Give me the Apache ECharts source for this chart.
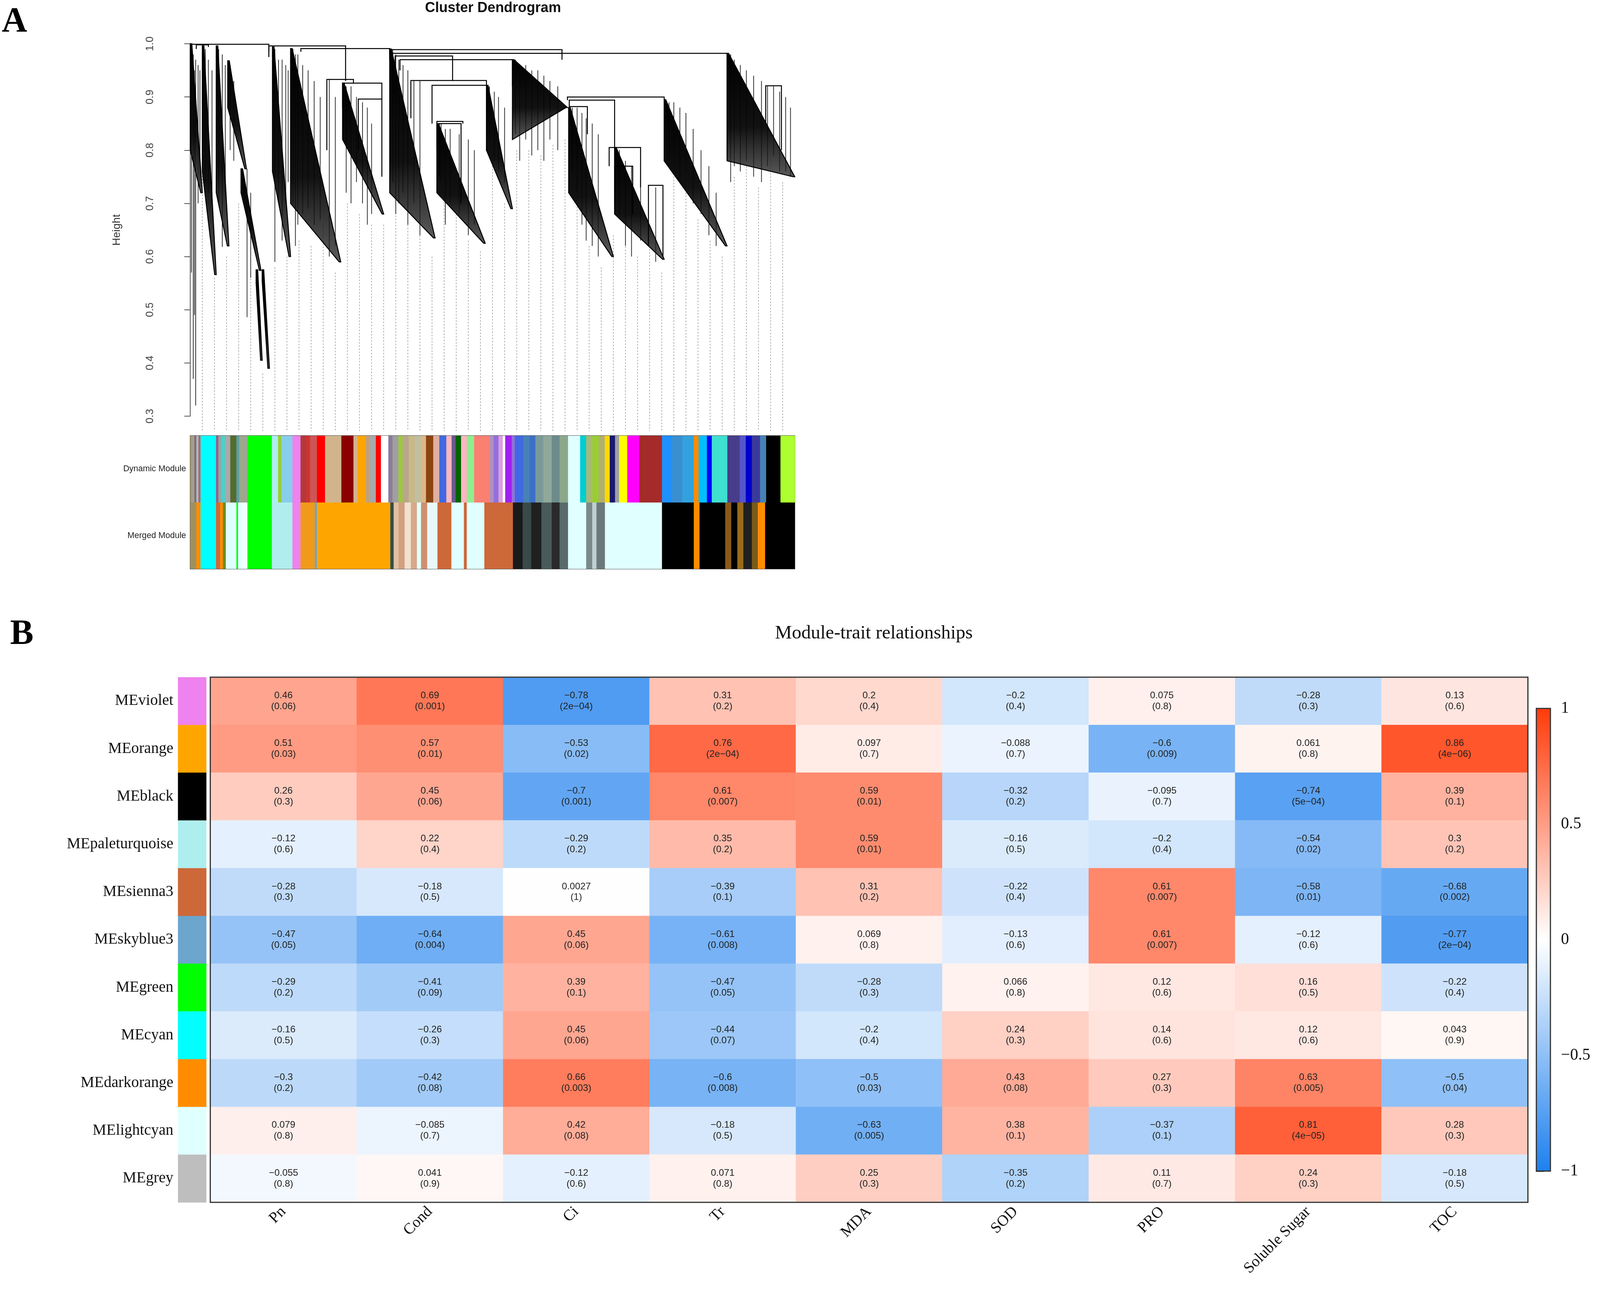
<!DOCTYPE html>
<html>
<head>
<meta charset="utf-8">
<script src="https://cdn.jsdelivr.net/npm/echarts@6/dist/echarts.min.js"></script>
<style>
html, body { margin: 0; padding: 0; background: #fff; overflow: hidden; }
#chart { width: 100vw; height: 100vh; }
</style>
</head>
<body>
<div id="chart"></div>
<script>
// ---- panel B data: module-trait correlations ----
var traits = ['Pn', 'Cond', 'Ci', 'Tr', 'MDA', 'SOD', 'PRO', 'Soluble Sugar', 'TOC'];
var modules = ['MEviolet', 'MEorange', 'MEblack', 'MEpaleturquoise', 'MEsienna3', 'MEskyblue3',
    'MEgreen', 'MEcyan', 'MEdarkorange', 'MElightcyan', 'MEgrey'];
var moduleColors = ['#EE82EE', '#FFA500', '#000000', '#AFEEEE', '#CD6839', '#6CA6CD',
    '#00FF00', '#00FFFF', '#FF8C00', '#E0FFFF', '#BEBEBE'];
var corrValues = [
    [0.46, 0.69, -0.78, 0.31, 0.2, -0.2, 0.075, -0.28, 0.13],
    [0.51, 0.57, -0.53, 0.76, 0.097, -0.088, -0.6, 0.061, 0.86],
    [0.26, 0.45, -0.7, 0.61, 0.59, -0.32, -0.095, -0.74, 0.39],
    [-0.12, 0.22, -0.29, 0.35, 0.59, -0.16, -0.2, -0.54, 0.3],
    [-0.28, -0.18, 0.0027, -0.39, 0.31, -0.22, 0.61, -0.58, -0.68],
    [-0.47, -0.64, 0.45, -0.61, 0.069, -0.13, 0.61, -0.12, -0.77],
    [-0.29, -0.41, 0.39, -0.47, -0.28, 0.066, 0.12, 0.16, -0.22],
    [-0.16, -0.26, 0.45, -0.44, -0.2, 0.24, 0.14, 0.12, 0.043],
    [-0.3, -0.42, 0.66, -0.6, -0.5, 0.43, 0.27, 0.63, -0.5],
    [0.079, -0.085, 0.42, -0.18, -0.63, 0.38, -0.37, 0.81, 0.28],
    [-0.055, 0.041, -0.12, 0.071, 0.25, -0.35, 0.11, 0.24, -0.18]
];
var pValues = [
    ['0.06', '0.001', '2e-04', '0.2', '0.4', '0.4', '0.8', '0.3', '0.6'],
    ['0.03', '0.01', '0.02', '2e-04', '0.7', '0.7', '0.009', '0.8', '4e-06'],
    ['0.3', '0.06', '0.001', '0.007', '0.01', '0.2', '0.7', '5e-04', '0.1'],
    ['0.6', '0.4', '0.2', '0.2', '0.01', '0.5', '0.4', '0.02', '0.2'],
    ['0.3', '0.5', '1', '0.1', '0.2', '0.4', '0.007', '0.01', '0.002'],
    ['0.05', '0.004', '0.06', '0.008', '0.8', '0.6', '0.007', '0.6', '2e-04'],
    ['0.2', '0.09', '0.1', '0.05', '0.3', '0.8', '0.6', '0.5', '0.4'],
    ['0.5', '0.3', '0.06', '0.07', '0.4', '0.3', '0.6', '0.6', '0.9'],
    ['0.2', '0.08', '0.003', '0.008', '0.03', '0.08', '0.3', '0.005', '0.04'],
    ['0.8', '0.7', '0.08', '0.5', '0.005', '0.1', '0.1', '4e-05', '0.3'],
    ['0.8', '0.9', '0.6', '0.8', '0.3', '0.2', '0.7', '0.3', '0.5']
];
var scaleColors = ['#1E80EE', '#FFFFFF', '#FF3A0A'];

// ---- panel A data: dendrogram (leaf position 0-1000, height) ----
// fans: [xStart, xEnd, topHeight, tipHeight, leftHeight]
var dendroFans = [
    [0, 20, 1.0, 0.72, 0.80],
    [20, 43, 0.996, 0.566, 0.76],
    [43, 64, 0.996, 0.62, 0.72],
    [62, 93, 0.968, 0.765, 0.88],
    [84, 117, 0.765, 0.574, 0.72],
    [109, 119, 0.575, 0.405, 0.55],
    [119, 131, 0.575, 0.39, 0.555],
    [136, 166, 0.994, 0.60, 0.76],
    [166, 249, 0.991, 0.59, 0.70],
    [252, 320, 0.926, 0.68, 0.82],
    [330, 405, 0.99, 0.635, 0.72],
    [408, 488, 0.85, 0.625, 0.72],
    [490, 533, 0.922, 0.69, 0.80],
    [533, 624, 0.97, 0.88, 0.82],
    [626, 700, 0.88, 0.60, 0.72],
    [702, 784, 0.805, 0.595, 0.68],
    [784, 888, 0.895, 0.62, 0.78],
    [888, 1000, 0.982, 0.75, 0.78]
];
// merges: [xLeft, xRight, height, leftChildHeight, rightChildHeight]
var dendroLinks = [
    [2, 130, 0.999, 0.99, 0.975],
    [10, 30, 0.998, 0.99, 0.994],
    [130, 257, 0.996, 0.985, 0.93],
    [183, 330, 0.991, 0.985, 0.982],
    [330, 615, 0.989, 0.98, 0.97],
    [330, 888, 0.982, 0.97, 0.975],
    [339, 434, 0.977, 0.96, 0.93],
    [347, 533, 0.970, 0.95, 0.92],
    [226, 270, 0.933, 0.80, 0.926],
    [252, 317, 0.926, 0.88, 0.896],
    [278, 317, 0.896, 0.80, 0.75],
    [365, 490, 0.931, 0.86, 0.922],
    [400, 490, 0.922, 0.85, 0.90],
    [624, 784, 0.90, 0.894, 0.895],
    [627, 702, 0.894, 0.882, 0.805],
    [408, 451, 0.854, 0.80, 0.85],
    [412, 448, 0.85, 0.75, 0.70],
    [693, 745, 0.805, 0.77, 0.73],
    [702, 732, 0.77, 0.70, 0.68],
    [758, 782, 0.734, 0.62, 0.60],
    [952, 978, 0.921, 0.85, 0.80],
    [627, 657, 0.882, 0.84, 0.83]
];
// single hanging branches: [x, topHeight, bottomHeight]
var dendroHangs = [
    [2, 0.99, 0.57], [5, 0.98, 0.37], [9, 0.97, 0.32], [7, 0.95, 0.49], [13, 0.96, 0.70], [16, 0.95, 0.73],
    [25, 0.99, 0.74], [30, 0.97, 0.72], [36, 0.95, 0.70],
    [47, 0.99, 0.70], [53, 0.98, 0.618], [58, 0.96, 0.72],
    [66, 0.96, 0.80], [72, 0.93, 0.78], [94, 0.765, 0.486], [100, 0.72, 0.56],
    [140, 0.99, 0.59], [146, 0.97, 0.70], [152, 0.97, 0.63], [158, 0.96, 0.70], [162, 0.95, 0.74],
    [170, 0.99, 0.70], [174, 0.98, 0.62], [178, 0.98, 0.66], [186, 0.96, 0.68], [195, 0.95, 0.69],
    [205, 0.93, 0.66], [215, 0.90, 0.67], [230, 0.933, 0.60], [240, 0.90, 0.62],
    [258, 0.92, 0.72], [266, 0.92, 0.70], [275, 0.90, 0.74], [285, 0.89, 0.70], [293, 0.88, 0.66], [300, 0.85, 0.68],
    [335, 0.99, 0.74], [340, 0.98, 0.68], [345, 0.97, 0.70], [352, 0.96, 0.72], [360, 0.95, 0.66], [370, 0.93, 0.70], [380, 0.93, 0.64],
    [415, 0.85, 0.74], [422, 0.84, 0.66], [430, 0.84, 0.70], [445, 0.83, 0.68], [460, 0.82, 0.64], [470, 0.80, 0.66],
    [495, 0.92, 0.82], [503, 0.91, 0.78], [510, 0.90, 0.76], [520, 0.88, 0.74],
    [538, 0.97, 0.83], [545, 0.96, 0.78], [555, 0.96, 0.82], [565, 0.95, 0.79], [575, 0.95, 0.80],
    [585, 0.94, 0.78], [595, 0.93, 0.82], [608, 0.92, 0.80],
    [632, 0.88, 0.76], [640, 0.88, 0.72], [648, 0.87, 0.66], [655, 0.86, 0.63], [665, 0.85, 0.62], [675, 0.83, 0.60],
    [710, 0.80, 0.68], [720, 0.78, 0.62], [730, 0.77, 0.60], [745, 0.76, 0.63], [770, 0.73, 0.59],
    [792, 0.89, 0.78], [800, 0.89, 0.80], [810, 0.88, 0.74], [820, 0.87, 0.76], [832, 0.84, 0.70],
    [845, 0.80, 0.68], [858, 0.77, 0.64], [870, 0.72, 0.62],
    [894, 0.98, 0.74], [900, 0.97, 0.77], [910, 0.96, 0.76], [920, 0.95, 0.78], [932, 0.94, 0.75],
    [945, 0.93, 0.74], [955, 0.92, 0.77], [965, 0.92, 0.79], [975, 0.91, 0.76], [985, 0.90, 0.76], [993, 0.88, 0.75]
];
// dotted guide lines: [x, startHeight]
var dendroGuides = [
    [20, 0.84], [40, 0.56], [60, 0.60], [80, 0.70], [100, 0.57], [120, 0.38], [140, 0.58], [160, 0.60],
    [180, 0.63], [200, 0.62], [220, 0.66], [240, 0.57], [260, 0.70], [280, 0.68], [300, 0.66], [320, 0.66],
    [340, 0.73], [360, 0.66], [380, 0.64], [400, 0.60], [420, 0.72], [440, 0.68], [460, 0.63], [480, 0.61],
    [500, 0.80], [520, 0.70], [540, 0.80], [560, 0.80], [580, 0.79], [600, 0.81], [620, 0.82], [640, 0.70],
    [660, 0.62], [680, 0.58], [700, 0.64], [720, 0.66], [740, 0.60], [760, 0.62], [780, 0.57], [800, 0.78],
    [820, 0.75], [840, 0.67], [860, 0.63], [880, 0.60], [900, 0.75], [920, 0.77], [940, 0.73], [960, 0.78],
    [980, 0.74]
];
// module colour bars: [xStart, xEnd, colour]
var dynamicSegments = [
    [0, 3.4, '#A89A6A'], [3.4, 6.8, '#A0A0A0'], [6.8, 10, '#8B6969'], [10, 13.5, '#9AC0CD'], [13.5, 17, '#CD5C5C'],
    [17, 42.6, '#00FFFF'], [42.6, 46.6, '#8B668B'], [46.6, 50.7, '#A0A0A0'], [50.7, 57.4, '#48D1CC'],
    [57.4, 66.2, '#A9A9A9'], [66.2, 76.4, '#556B2F'], [76.4, 81, '#5F9EA0'], [81, 94.6, '#9CA88C'],
    [94.6, 135, '#00FF00'], [135, 145.3, '#AFEEEE'], [145.3, 150.7, '#9ACD32'], [150.7, 169, '#87CEEB'],
    [169, 182.4, '#EE82EE'], [182.4, 191, '#B03A3A'], [191, 198, '#CD3333'], [198, 209.5, '#CD5555'],
    [209.5, 223, '#FF0000'], [223, 250, '#D2B48C'], [250, 270, '#8B0000'], [270, 277, '#D2B48C'],
    [277, 290.5, '#FFA500'], [290.5, 297, '#C0A080'], [297, 307, '#A9A9A9'], [307, 315.5, '#FF0000'],
    [315.5, 327.7, '#FFFFFF'], [327.7, 334.5, '#8B7D9B'], [334.5, 344.6, '#A0A0A0'], [344.6, 351, '#9ACD32'],
    [351, 361.5, '#B8A88A'], [361.5, 371.6, '#C8B88A'], [371.6, 381.8, '#C0C0A0'], [381.8, 390, '#DEB887'],
    [390, 402, '#8B4513'], [402, 412, '#E0B0A0'], [412, 423.6, '#4169E1'], [423.6, 432.4, '#FFB6C1'],
    [432.4, 439, '#6A5A8A'], [439, 448, '#006400'], [448, 457.4, '#FFB6C1'], [457.4, 469.6, '#90EE90'],
    [469.6, 495.3, '#FA8072'], [495.3, 502, '#B090C0'], [502, 510, '#9370DB'], [510, 517, '#DDA0DD'],
    [517, 521, '#FFFFFF'], [521, 531.8, '#A020F0'], [531.8, 537, '#9370DB'], [537, 551, '#4169E1'],
    [551, 561, '#4682B4'], [561, 571, '#3C70C8'], [571, 584, '#7A9A9A'], [584, 598, '#8FA89A'],
    [598, 611, '#6E8B8B'], [611, 625, '#8CA88C'], [625, 645, '#E0FFFF'], [645, 655, '#00CED1'],
    [655, 665, '#A8B878'], [665, 675.7, '#9ACD32'], [675.7, 685.8, '#B0B070'], [685.8, 694, '#FFD700'],
    [694, 702.7, '#191970'], [702.7, 709.5, '#A0A0A0'], [709.5, 723, '#FFFF00'], [723, 743, '#FF00FF'],
    [743, 780.4, '#A52A2A'], [780.4, 797, '#1E90FF'], [797, 814, '#3A8FD0'], [814, 833, '#33A1DE'],
    [833, 841, '#FF8C00'], [841, 854.7, '#00BFFF'], [854.7, 862.8, '#0000FF'], [862.8, 888.5, '#40E0D0'],
    [888.5, 909, '#483D8B'], [909, 919, '#5555CC'], [919, 929, '#0000CD'], [929, 942.6, '#3A3A9A'],
    [942.6, 952.7, '#4682B4'], [952.7, 976.4, '#000000'], [976.4, 1000, '#ADFF2F']
];
var mergedSegments = [
    [0, 10, '#A09060'], [10, 17, '#FF8C00'], [17, 42.6, '#00FFFF'], [42.6, 49.3, '#CD6839'],
    [49.3, 54, '#FF8C00'], [54, 58.8, '#6B8E23'], [58.8, 76.4, '#E0FFFF'], [76.4, 79, '#00FF00'],
    [79, 84.5, '#E0FFFF'], [84.5, 94.6, '#F0FFFF'], [94.6, 135, '#00FF00'], [135, 169, '#AFEEEE'],
    [169, 182.4, '#EE82EE'], [182.4, 206, '#F09A1A'], [206, 209.5, '#6CA6CD'], [209.5, 331, '#FFA500'],
    [331, 336.5, '#2F4F4F'], [336.5, 344.6, '#E0C0A0'], [344.6, 354.7, '#D2A080'], [354.7, 365, '#F0E0D0'],
    [365, 375, '#D8A888'], [375, 381.8, '#E0FFFF'], [381.8, 392, '#D09070'], [392, 409, '#E8F8F8'],
    [409, 432, '#CD6839'], [432, 452.7, '#E0FFFF'], [452.7, 457.4, '#CD6839'], [457.4, 486.5, '#E0FFFF'],
    [486.5, 533.8, '#CD6839'], [533.8, 550, '#1A1A1A'], [550, 564, '#3A4A4A'], [564, 581, '#202020'],
    [581, 598, '#4A5A5A'], [598, 611, '#2A2A2A'], [611, 625, '#5A6A6A'], [625, 655, '#E0FFFF'],
    [655, 665, '#7A8A8A'], [665, 672, '#C0D0D0'], [672, 686, '#6A7A7A'], [686, 780.4, '#E0FFFF'],
    [780.4, 833, '#000000'], [833, 842.5, '#FF8C00'], [842.5, 885, '#000000'], [885, 895, '#8B5A1A'],
    [895, 905, '#000000'], [905, 915, '#9A6A1A'], [915, 929, '#202020'], [929, 939, '#7A5A1A'],
    [939, 951, '#FF8C00'], [951, 1000, '#000000']
];

function fmt(v) {
    return String(v).replace('-', '\u2212');
}

var heatData = [];
modules.forEach(function (m, r) {
    traits.forEach(function (t, c) {
        heatData.push([c, r, corrValues[r][c], pValues[r][c]]);
    });
});

// layout is designed on a 4550 x 3309 page and scaled to the real viewport
var dom = document.getElementById('chart');
var kx = dom.clientWidth / 4550;
var ky = dom.clientHeight / 3309;
var kf = Math.min(kx, ky);
function X(v) { return v * kx; }
function Y(v) { return v * ky; }
function F(v) { return v * kf; }

var chart = echarts.init(dom, null, { renderer: 'canvas' });

function segmentRenderer(list) {
    return function (params, api) {
        var seg = list[params.dataIndex];
        var a = api.coord([seg[0], 0]);
        var b = api.coord([seg[1], 0]);
        var cs = params.coordSys;
        return {
            type: 'rect',
            shape: { x: a[0], y: cs.y, width: b[0] - a[0] + 0.6, height: cs.height },
            style: { fill: seg[2] }
        };
    };
}

var serif = 'Liberation Serif';
var sans = 'Liberation Sans';

var option = {
    backgroundColor: '#fff',
    animation: false,
    grid: [
        { left: X(541), top: Y(112), width: X(1719), height: Y(953) },            // 0 dendrogram
        { left: X(541), top: Y(1115), width: X(1719), height: Y(171), show: true, borderColor: '#555', borderWidth: 2 }, // 1 dynamic
        { left: X(541), top: Y(1286), width: X(1719), height: Y(170), show: true, borderColor: '#555', borderWidth: 2 }, // 2 merged
        { left: X(598), top: Y(1733), width: X(3747), height: Y(1344) },          // 3 heatmap
        { left: X(506), top: Y(1733), width: X(81), height: Y(1344) },            // 4 module colours
        { left: X(4369), top: Y(1813), width: X(40), height: Y(1184) }            // 5 colour scale
    ],
    xAxis: [
        { gridIndex: 0, type: 'value', min: 0, max: 1000, show: false },
        { gridIndex: 1, type: 'value', min: 0, max: 1000, show: false },
        { gridIndex: 2, type: 'value', min: 0, max: 1000, show: false },
        {
            gridIndex: 3, type: 'category', data: traits, position: 'bottom',
            axisLine: { show: false }, axisTick: { show: false }, splitLine: { show: false },
            axisLabel: { rotate: 45, margin: F(20), fontFamily: serif, fontSize: F(44), color: '#111' }
        },
        { gridIndex: 4, type: 'category', data: ['c'], show: false },
        { gridIndex: 5, type: 'value', min: 0, max: 1, show: false }
    ],
    yAxis: [
        {
            gridIndex: 0, type: 'value', min: 0.3, max: 1.0, interval: 0.1, offset: X(69),
            name: 'Height', nameLocation: 'middle', nameGap: X(124), nameRotate: 90,
            nameTextStyle: { fontFamily: sans, fontSize: F(31), color: '#333' },
            axisLine: { show: true, lineStyle: { color: '#555', width: 2 } },
            axisTick: { show: true, length: X(17), lineStyle: { color: '#555', width: 2 } },
            splitLine: { show: false },
            axisLabel: {
                rotate: 90, margin: X(30), fontFamily: sans, fontSize: F(30), color: '#444',
                formatter: function (v) { return v.toFixed(1); }
            }
        },
        {
            gridIndex: 1, type: 'category', data: ['Dynamic Module'],
            axisLine: { show: false }, axisTick: { show: false },
            axisLabel: { margin: X(12), fontFamily: sans, fontSize: F(24), color: '#222' }
        },
        {
            gridIndex: 2, type: 'category', data: ['Merged Module'],
            axisLine: { show: false }, axisTick: { show: false },
            axisLabel: { margin: X(12), fontFamily: sans, fontSize: F(24), color: '#222' }
        },
        { gridIndex: 3, type: 'category', data: modules, inverse: true, show: false },
        {
            gridIndex: 4, type: 'category', data: modules, inverse: true,
            axisLine: { show: false }, axisTick: { show: false },
            axisLabel: { margin: X(13), fontFamily: serif, fontSize: F(44), color: '#111' }
        },
        {
            gridIndex: 5, type: 'value', min: -1, max: 1, interval: 0.5, position: 'right',
            axisLine: { show: true, lineStyle: { color: '#333', width: 3 } },
            axisTick: { show: true, length: X(22), lineStyle: { color: '#333', width: 3 } },
            splitLine: { show: false },
            axisLabel: { margin: X(30), fontFamily: serif, fontSize: F(46), color: '#111', formatter: function (v) { return fmt(v); } }
        }
    ],
    visualMap: {
        show: false, min: -1, max: 1, dimension: 2, seriesIndex: 7,
        inRange: { color: scaleColors }
    },
    graphic: [
        { type: 'text', x: X(41), y: Y(58), style: { text: 'A', font: 'bold ' + F(100) + 'px "Liberation Serif"', fill: '#000', textAlign: 'center', textVerticalAlign: 'middle' } },
        { type: 'text', x: X(62), y: Y(1625), style: { text: 'B', font: 'bold ' + F(100) + 'px "Liberation Serif"', fill: '#000', textAlign: 'center', textVerticalAlign: 'middle' } },
        { type: 'text', x: X(1402), y: Y(21), style: { text: 'Cluster Dendrogram', font: 'bold ' + F(40) + 'px "Liberation Sans"', fill: '#111', textAlign: 'center', textVerticalAlign: 'middle' } },
        { type: 'text', x: X(2485), y: Y(1621), style: { text: 'Module-trait relationships', font: F(54) + 'px "Liberation Serif"', fill: '#111', textAlign: 'center', textVerticalAlign: 'middle' } },
        { type: 'rect', z: 100, shape: { x: X(598), y: Y(1733), width: X(3747), height: Y(1344) }, style: { fill: 'none', stroke: '#333', lineWidth: 3 } }
    ],
    series: [
        // 0 dotted guides
        {
            type: 'custom', xAxisIndex: 0, yAxisIndex: 0, clip: false, silent: true,
            data: dendroGuides,
            renderItem: function (params, api) {
                var a = api.coord([api.value(0), api.value(1)]);
                var b = api.coord([api.value(0), 0.272]);
                return { type: 'line', shape: { x1: a[0], y1: a[1], x2: b[0], y2: b[1] },
                    style: { stroke: '#9a9a9a', lineWidth: 1.6, lineDash: [4, 4] } };
            }
        },
        // 1 hanging branches
        {
            type: 'custom', xAxisIndex: 0, yAxisIndex: 0, clip: false, silent: true,
            data: dendroHangs,
            renderItem: function (params, api) {
                var a = api.coord([api.value(0), api.value(1)]);
                var b = api.coord([api.value(0), api.value(2)]);
                return { type: 'line', shape: { x1: a[0], y1: a[1], x2: b[0], y2: b[1] },
                    style: { stroke: '#333', lineWidth: 2 } };
            }
        },
        // 2 dense fans
        {
            type: 'custom', xAxisIndex: 0, yAxisIndex: 0, clip: false, silent: true,
            data: dendroFans,
            renderItem: function (params, api) {
                var p0 = api.coord([api.value(0), api.value(2)]);
                var p1 = api.coord([api.value(1), api.value(3)]);
                var p2 = api.coord([api.value(0), api.value(4)]);
                return { type: 'polygon', shape: { points: [p0, [p0[0] + 4, p0[1]], p1, [p1[0] - 4, p1[1]], p2] },
                    style: {
                        fill: new echarts.graphic.LinearGradient(0, 0, 0, 1, [
                            { offset: 0, color: 'rgba(0,0,0,1)' },
                            { offset: 0.6, color: 'rgba(5,5,5,0.95)' },
                            { offset: 1, color: 'rgba(35,35,35,0.75)' }
                        ]),
                        stroke: '#000', lineWidth: 2.5
                    } };
            }
        },
        // 3 merge links
        {
            type: 'custom', xAxisIndex: 0, yAxisIndex: 0, clip: false, silent: true,
            data: dendroLinks,
            renderItem: function (params, api) {
                var l0 = api.coord([api.value(0), api.value(3)]);
                var l1 = api.coord([api.value(0), api.value(2)]);
                var r1 = api.coord([api.value(1), api.value(2)]);
                var r0 = api.coord([api.value(1), api.value(4)]);
                return { type: 'polyline', shape: { points: [l0, l1, r1, r0] },
                    style: { fill: 'none', stroke: '#000', lineWidth: 2.5 } };
            }
        },
        // 4 dynamic module colours
        {
            type: 'custom', xAxisIndex: 1, yAxisIndex: 1, silent: true,
            data: dynamicSegments.map(function (s) { return [s[0], s[1]]; }),
            renderItem: segmentRenderer(dynamicSegments)
        },
        // 5 merged module colours
        {
            type: 'custom', xAxisIndex: 2, yAxisIndex: 2, silent: true,
            data: mergedSegments.map(function (s) { return [s[0], s[1]]; }),
            renderItem: segmentRenderer(mergedSegments)
        },
        // 6 module colour column
        {
            type: 'custom', xAxisIndex: 4, yAxisIndex: 4, silent: true,
            data: modules.map(function (m, i) { return [0, i]; }),
            renderItem: function (params, api) {
                var c = api.coord([0, api.value(1)]);
                var h = api.size([0, 1])[1];
                var cs = params.coordSys;
                return { type: 'rect', shape: { x: cs.x, y: c[1] - h / 2, width: cs.width, height: h + 0.5 },
                    style: { fill: moduleColors[params.dataIndex] } };
            }
        },
        // 7 heatmap
        {
            type: 'heatmap', xAxisIndex: 3, yAxisIndex: 3, silent: true,
            data: heatData,
            itemStyle: { borderWidth: 0 },
            emphasis: { disabled: true },
            label: {
                show: true, fontFamily: sans, fontSize: F(27), lineHeight: F(31), color: '#222',
                formatter: function (p) { return fmt(p.data[2]) + '\n(' + fmt(p.data[3]) + ')'; }
            }
        },
        // 8 colour scale bar
        {
            type: 'custom', xAxisIndex: 5, yAxisIndex: 5, silent: true,
            data: [[0, -1, 1, 1]],
            renderItem: function (params, api) {
                var a = api.coord([api.value(0), api.value(3)]);
                var b = api.coord([api.value(2), api.value(1)]);
                return { type: 'rect', shape: { x: a[0], y: a[1], width: b[0] - a[0], height: b[1] - a[1] },
                    style: {
                        fill: new echarts.graphic.LinearGradient(0, 0, 0, 1, [
                            { offset: 0, color: scaleColors[2] },
                            { offset: 0.5, color: scaleColors[1] },
                            { offset: 1, color: scaleColors[0] }
                        ]),
                        stroke: '#333', lineWidth: 3
                    } };
            }
        }
    ]
};

chart.setOption(option);
</script>
</body>
</html>
